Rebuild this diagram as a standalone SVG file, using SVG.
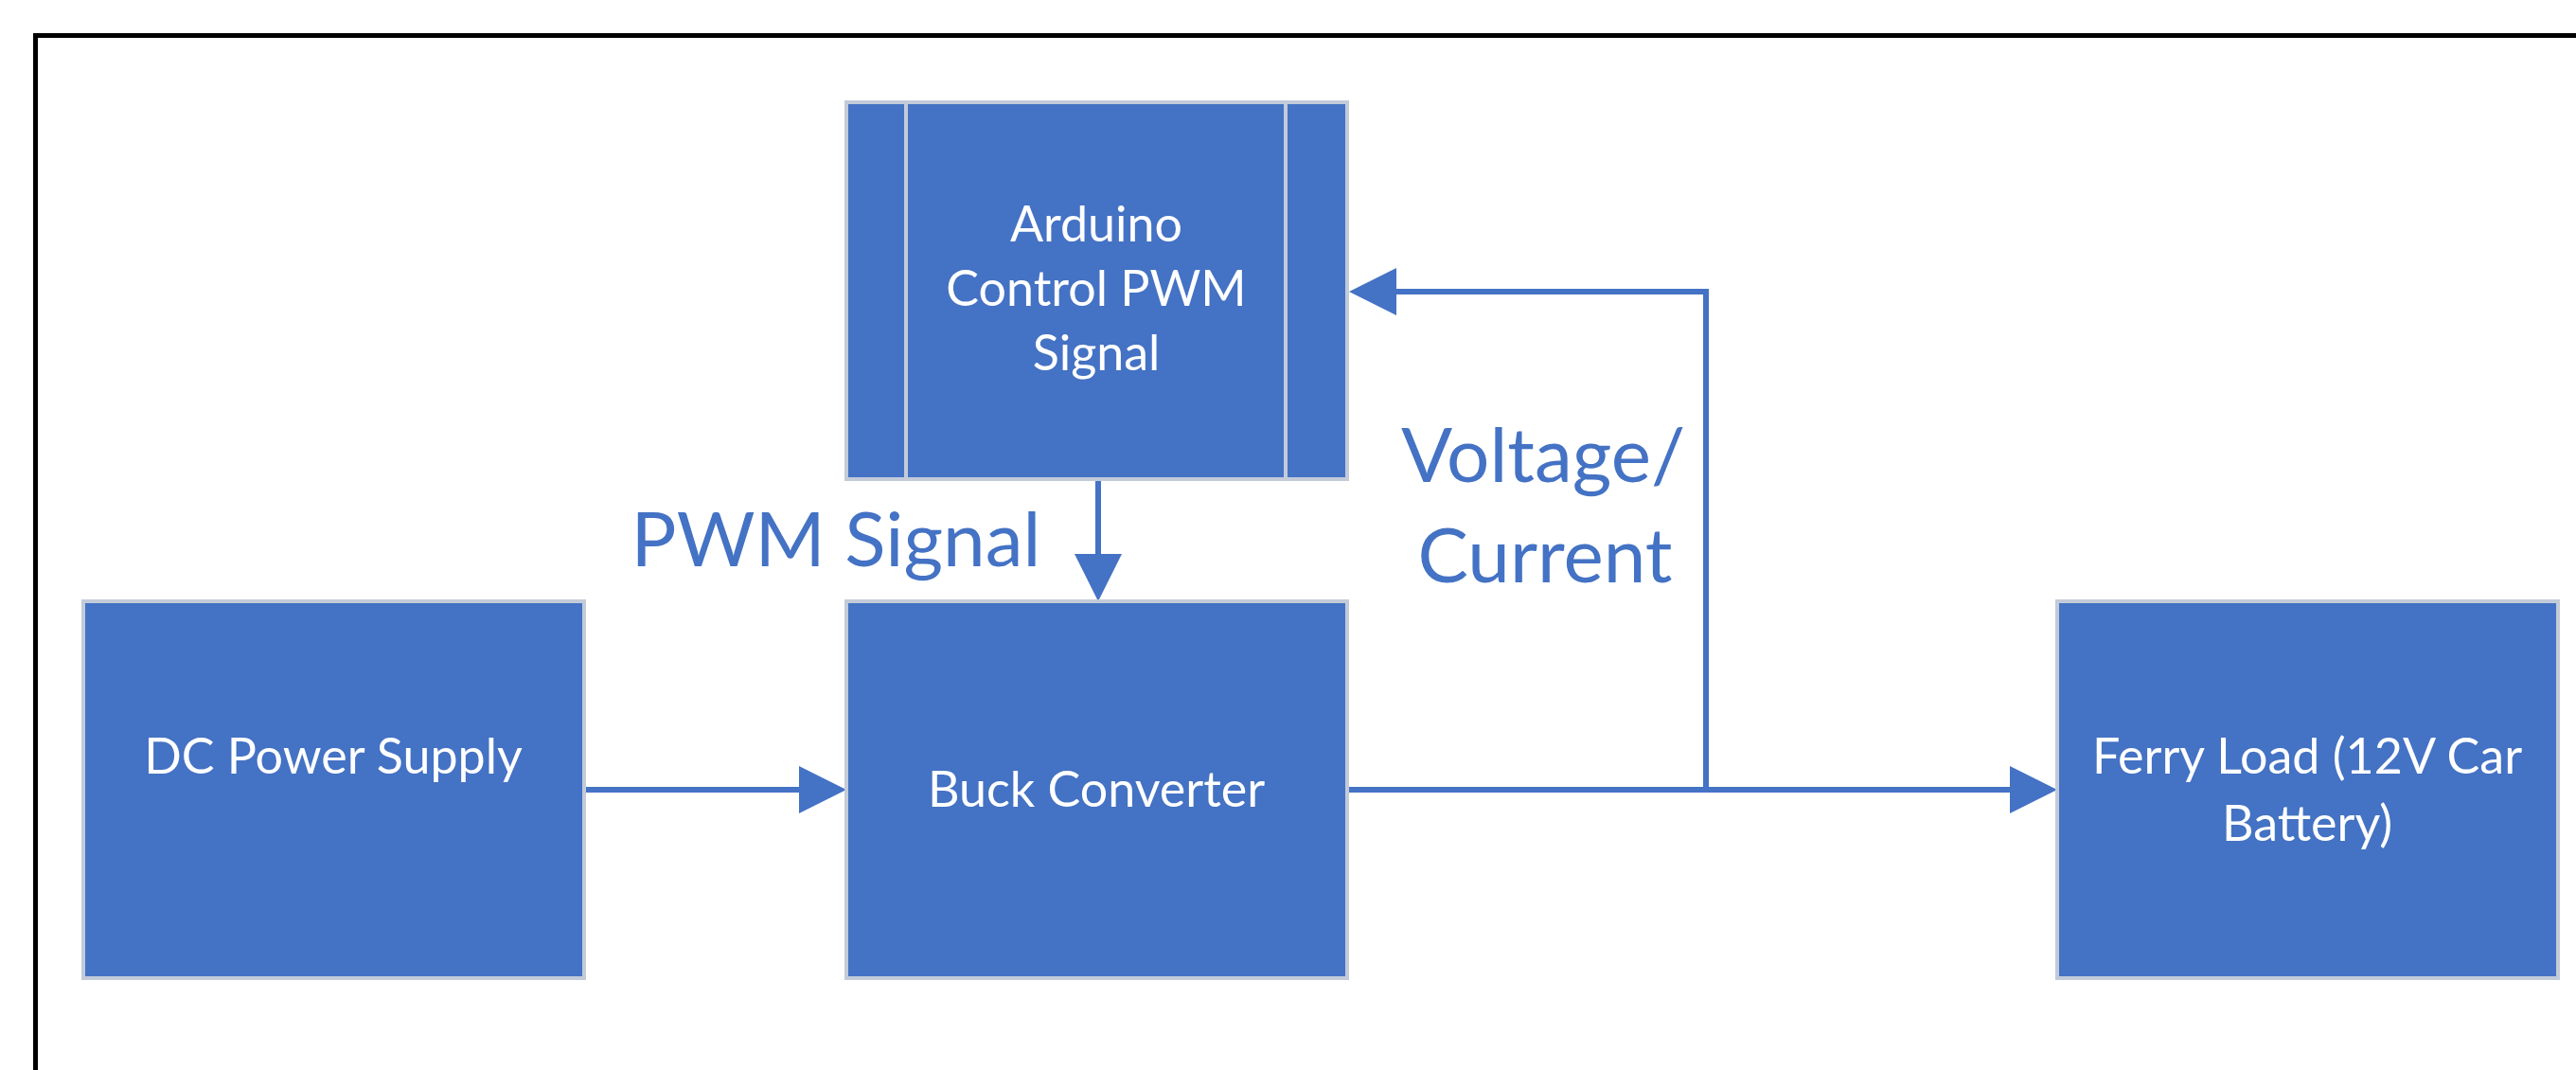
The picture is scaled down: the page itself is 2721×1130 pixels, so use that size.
<svg xmlns="http://www.w3.org/2000/svg" width="2721" height="1130" viewBox="0 0 2721 1130">
<style>
.box{fill:#4472C4;stroke:#C3CBD9;stroke-width:4}
.div{stroke:#C3CBD9;stroke-width:4}
.nt{font-family:Lato,"Open Sans","Liberation Sans",sans-serif;font-size:52px;fill:#FFFFFF;text-anchor:middle}
.lbl{font-family:Lato,"Open Sans","Liberation Sans",sans-serif;font-size:80px;fill:#4472C4;text-anchor:middle}
.wire{fill:none;stroke:#4472C4;stroke-width:6}
</style>
<defs>
<marker id="ah" markerUnits="userSpaceOnUse" markerWidth="50" markerHeight="50" refX="5" refY="25" orient="auto">
<path d="M0,0 L50,25 L0,50 Z" fill="#4472C4"/>
</marker>
</defs>
<rect x="0" y="0" width="2721" height="1130" fill="#FFFFFF"/>
<path d="M37.5,1130 V37.5 H2721" fill="none" stroke="#000000" stroke-width="5"/>
<g id="connectors">
<line class="wire" x1="617" y1="834" x2="849" y2="834" marker-end="url(#ah)"/>
<line class="wire" x1="1423" y1="834" x2="2128" y2="834" marker-end="url(#ah)"/>
<polyline class="wire" points="1802,834 1802,308 1470,308" marker-end="url(#ah)"/>
<line class="wire" x1="1160" y1="506" x2="1160" y2="590" marker-end="url(#ah)"/>
</g>
<g id="dc-power-supply">
<rect class="box" x="88" y="635" width="529" height="398"/>
<text class="nt" x="352" y="817">DC Power Supply</text>
</g>
<g id="buck-converter">
<rect class="box" x="894" y="635" width="529" height="398"/>
<text class="nt" x="1158" y="852">Buck Converter</text>
</g>
<g id="ferry-load">
<rect class="box" x="2173" y="635" width="529" height="398"/>
<text class="nt" x="2437" y="817">Ferry Load (12V Car</text>
<text class="nt" x="2437" y="888">Battery)</text>
</g>
<g id="arduino">
<rect class="box" x="894" y="108" width="529" height="398"/>
<line class="div" x1="957" y1="108" x2="957" y2="506"/>
<line class="div" x1="1358" y1="108" x2="1358" y2="506"/>
<text class="nt" x="1158" y="255">Arduino</text>
<text class="nt" x="1158" y="323">Control PWM</text>
<text class="nt" x="1158" y="391">Signal</text>
</g>
<g id="labels">
<text class="lbl" x="883" y="598">PWM Signal</text>
<text class="lbl" x="1630" y="509">Voltage/</text>
<text class="lbl" x="1632" y="615">Current</text>
</g>
</svg>
